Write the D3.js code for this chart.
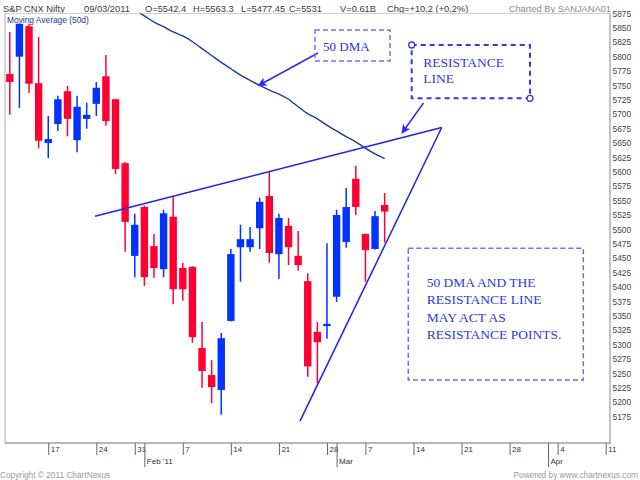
<!DOCTYPE html>
<html><head><meta charset="utf-8">
<script src="https://cdn.jsdelivr.net/npm/d3@7"></script>
<style>
html,body{margin:0;padding:0;background:#fff;}
svg{display:block;}
</style></head>
<body>
<svg id="c" width="640" height="480"></svg>
<script>
// ---------- DATA ----------
const sessions = [
 "2011-01-11","2011-01-12","2011-01-13","2011-01-14","2011-01-17","2011-01-18","2011-01-19","2011-01-20","2011-01-21",
 "2011-01-24","2011-01-25","2011-01-27","2011-01-28","2011-01-31","2011-02-01","2011-02-02","2011-02-03","2011-02-04",
 "2011-02-07","2011-02-08","2011-02-09","2011-02-10","2011-02-11","2011-02-14","2011-02-15","2011-02-16","2011-02-17",
 "2011-02-18","2011-02-21","2011-02-22","2011-02-23","2011-02-24","2011-02-25","2011-02-28","2011-03-01","2011-03-03",
 "2011-03-04","2011-03-07","2011-03-08","2011-03-09","2011-03-10","2011-03-11","2011-03-14","2011-03-15","2011-03-16",
 "2011-03-17","2011-03-18","2011-03-21","2011-03-22","2011-03-23","2011-03-24","2011-03-25","2011-03-28","2011-03-29",
 "2011-03-30","2011-03-31","2011-04-01","2011-04-04","2011-04-05","2011-04-06","2011-04-07","2011-04-08","2011-04-11"
];
const open  = [5770,5800,5853,5754,5650,5683,5740,5655,5692,5718,5766,5726,5615,5454,5539,5471,5431,5522,5433,5435,
               5294,5247,5221,5341,5469,5469,5502,5558,5457,5506,5454,5410,5322,5332,5383,5478,5588,5492,5466,5542.4];
const high  = [5843,5858,5857,5834,5697,5732,5749,5732,5720,5756,5803,5727,5617,5527,5541,5492,5534,5558,5442,5436,
               5339,5273,5320,5466,5508,5504,5555,5600,5527,5520,5497,5424,5339,5476,5534,5572,5610,5493,5532,5563.3];
const low   = [5699,5711,5737,5641,5624,5671,5662,5634,5675,5697,5680,5596,5461,5417,5402,5416,5417,5370,5376,5303,
               5225,5198,5178,5340,5409,5461,5466,5442,5414,5438,5428,5244,5233,5310,5374,5468,5525,5409,5465,5477.45];
const close = [5756,5857,5753,5654,5657,5726,5692,5713,5699,5746,5688,5605,5513,5508,5417,5433,5528,5396,5396,5313,
               5254,5226,5311,5457,5483,5483,5548,5459,5520,5469,5438,5262,5304,5336,5525,5539,5539,5464,5523,5531];
const ma50  = [null,null,null,null,null,null,null,null,null,null,null,null,null,5881,5871,5860,5852,5843,5836,5826,
               5814,5802,5790,5779,5768,5759,5750,5742,5735,5726,5713,5701,5692,5681,5671,5661,5652,5641,5631,5623];
const priceTicks = [5175,5200,5225,5250,5275,5300,5325,5350,5375,5400,5425,5450,5475,5500,5525,5550,5575,5600,
                    5625,5650,5675,5700,5725,5750,5775,5800,5825,5850,5875];
const monthLabels = {"2011-02":"Feb '11","2011-03":"Mar","2011-04":"Apr"};
// trend lines in (session index, price)
const resistanceLine = [[8.86,5523],[44.94,5677]];
const supportLine = [[44.94,5677],[30.19,5167]];
const header = ["S&P CNX Nifty","09/03/2011","O=5542.4","H=5563.3","L=5477.45","C=5531","V=0.61B","Chg=+10.2 (+0.2%)"];

// ---------- LAYOUT ----------
const L = 5, R = 610.5, T = 13.5, B = 443;
const svg = d3.select("#c");
const x = d3.scaleLinear().domain([-0.5, sessions.length - 0.5]).range([L, R]);
const y = d3.scaleLinear().domain([5875, 5175]).range([13.5, 416.5]);
const parse = d3.timeParse("%Y-%m-%d");
const dates = sessions.map(parse);
const sans = "'Liberation Sans', Arial, sans-serif";
const serif = "'Liberation Serif', 'Times New Roman', serif";

svg.append("defs").append("clipPath").attr("id","plot")
  .append("rect").attr("x",L).attr("y",T).attr("width",R-L).attr("height",B-T);

// header
const hx = [3,84,145,193,241,289,340,387];
header.forEach((t,i)=>{
  svg.append("text").attr("x",hx[i]).attr("y",12).text(t)
    .attr("font-family",sans).attr("font-size",9.3).attr("fill","#3a3a3a");
});
svg.append("text").attr("x",611).attr("y",12).attr("text-anchor","end").text("Charted By SANJANA01")
  .attr("font-family",sans).attr("font-size",9.3).attr("fill","#8a8a8a");

// frame
svg.append("line").attr("x1",L).attr("x2",R).attr("y1",T).attr("y2",T).attr("stroke","#d0d0d0");
svg.append("line").attr("x1",L).attr("x2",L).attr("y1",T).attr("y2",B).attr("stroke","#c8c8c8").attr("stroke-width",1.5);
svg.append("line").attr("x1",R-0.5).attr("x2",R-0.5).attr("y1",T).attr("y2",B+1).attr("stroke","#b0b0b0").attr("stroke-width",1.5);
svg.append("line").attr("x1",L).attr("x2",R).attr("y1",B).attr("y2",B).attr("stroke","#707070").attr("stroke-width",1.2);

// right axis
const ya = svg.append("g").attr("transform",`translate(${R},0)`)
  .call(d3.axisRight(y).tickValues(priceTicks).tickSize(0).tickPadding(2).tickFormat(d3.format("d")));
ya.select(".domain").remove();
ya.selectAll("text").attr("font-family",sans).attr("font-size",8.4).attr("fill","#444");

// bottom axes
const dayIdx = dates.map((d,i)=>i).filter(i=>dates[i].getDay()===1);
const monIdx = dates.map((d,i)=>i).filter(i=>i>0 && dates[i].getMonth()!==dates[i-1].getMonth());
const xa = svg.append("g").attr("transform",`translate(0,${B})`)
  .call(d3.axisBottom(x).tickValues(dayIdx).tickSize(12).tickSizeOuter(0).tickPadding(0)
  .tickFormat(i=>String(dates[i].getDate())));
xa.select(".domain").remove();
xa.selectAll("line").attr("stroke","#666");
xa.selectAll("text").attr("text-anchor","start").attr("x",2).attr("y",3).attr("dy","0.71em")
  .attr("font-family",sans).attr("font-size",8).attr("fill","#333");
const ma = svg.append("g").attr("transform",`translate(0,${B})`)
  .call(d3.axisBottom(x).tickValues(monIdx).tickSize(24).tickSizeOuter(0).tickPadding(0)
  .tickFormat(i=>monthLabels[sessions[i].slice(0,7)]));
ma.select(".domain").remove();
ma.selectAll("line").attr("stroke","#666");
ma.selectAll("text").attr("text-anchor","start").attr("x",2).attr("y",15).attr("dy","0.71em")
  .attr("font-family",sans).attr("font-size",8).attr("fill","#333");

// footer
svg.append("text").attr("x",0).attr("y",478).text("Copyright \u00a9 2011 ChartNexus")
  .attr("font-family",sans).attr("font-size",8.3).attr("fill","#999");
svg.append("text").attr("x",638).attr("y",478).attr("text-anchor","end").text("Powered by www.chartnexus.com")
  .attr("font-family",sans).attr("font-size",8.3).attr("fill","#999");

// candles
const plot = svg.append("g").attr("clip-path","url(#plot)");
const RED = "#ff0033", BLUE = "#0033ff";
const cd = open.map((o,i)=>({i,o,h:high[i],l:low[i],c:close[i]}));
const bw = 7.4;
const g = plot.selectAll("g.cd").data(cd).join("g");
g.append("line").attr("x1",d=>x(d.i)).attr("x2",d=>x(d.i)).attr("y1",d=>y(d.h)).attr("y2",d=>y(d.l))
  .attr("stroke",d=>d.c>=d.o?BLUE:RED).attr("stroke-width",1.5);
g.append("rect").attr("x",d=>x(d.i)-bw/2).attr("width",bw)
  .attr("y",d=>y(Math.max(d.o,d.c))).attr("height",d=>Math.max(2,Math.abs(y(d.o)-y(d.c))))
  .attr("fill",d=>d.c>=d.o?BLUE:RED);

// moving average
plot.append("path").datum(ma50.map((v,i)=>[i,v]).filter(d=>d[1]!==null))
  .attr("d",d3.line().x(d=>x(d[0])).y(d=>y(d[1])).curve(d3.curveMonotoneX))
  .attr("fill","none").attr("stroke","#1c3a9c").attr("stroke-width",1.4);

svg.append("text").attr("x",7).attr("y",23).text("Moving Average (50d)")
  .attr("font-family",sans).attr("font-size",8.4).attr("fill","#1c3a8c");

// trend lines
const tl = d3.line().x(d=>x(d[0])).y(d=>y(d[1]));
svg.append("path").datum(resistanceLine).attr("d",tl).attr("fill","none").attr("stroke","#1f1ff0").attr("stroke-width",1.5);
svg.append("path").datum(supportLine).attr("d",tl).attr("fill","none").attr("stroke","#1f1ff0").attr("stroke-width",1.5);

// arrows
const defs = svg.select("defs");
defs.append("marker").attr("id","ah").attr("viewBox","0 0 10 10").attr("refX",9).attr("refY",5)
  .attr("markerWidth",11).attr("markerHeight",9).attr("markerUnits","userSpaceOnUse").attr("orient","auto")
  .append("path").attr("d","M0,0 L10,5 L0,10 L2.5,5 Z").attr("fill","#2a2aff");
svg.append("line").attr("x1",318).attr("y1",53).attr("x2",258.5).attr("y2",85.5)
  .attr("stroke","#2a2aff").attr("stroke-width",1.5).attr("marker-end","url(#ah)");
svg.append("line").attr("x1",423.5).attr("y1",103).attr("x2",402).attr("y2",133)
  .attr("stroke","#2a2aff").attr("stroke-width",1.5).attr("marker-end","url(#ah)");

// annotation boxes
svg.append("rect").attr("x",315).attr("y",30).attr("width",75).attr("height",31)
  .attr("fill","none").attr("stroke","#7373ff").attr("stroke-width",1.5).attr("stroke-dasharray","5,3");
svg.append("text").attr("x",323).attr("y",51).text("50 DMA")
  .attr("font-family",serif).attr("font-size",13).attr("fill","#2233ee");

svg.append("rect").attr("x",411.7).attr("y",45).attr("width",118.3).attr("height",53.3)
  .attr("fill","none").attr("stroke","#3434ee").attr("stroke-width",2).attr("stroke-dasharray","5,4");
[[411.7,45],[530,98.3]].forEach(p=>{
  svg.append("circle").attr("cx",p[0]).attr("cy",p[1]).attr("r",3)
    .attr("fill","#fff").attr("stroke","#3434ee").attr("stroke-width",1.3);
});
["RESISTANCE","LINE"].forEach((t,k)=>{
  svg.append("text").attr("x",423.3).attr("y",66.7+k*16.6).text(t)
    .attr("font-family",serif).attr("font-size",13.5).attr("fill","#2a3ae0");
});

svg.append("rect").attr("x",408.3).attr("y",248.3).attr("width",175).attr("height",131.7)
  .attr("fill","none").attr("stroke","#6a6aff").attr("stroke-width",1.5).attr("stroke-dasharray","5,3");
["50 DMA AND THE","RESISTANCE LINE","MAY ACT AS","RESISTANCE POINTS."].forEach((t,k)=>{
  svg.append("text").attr("x",426.7).attr("y",286.7+k*17.45).text(t)
    .attr("font-family",serif).attr("font-size",13.5).attr("fill","#2a3ae0");
});
</script>
</body></html>
